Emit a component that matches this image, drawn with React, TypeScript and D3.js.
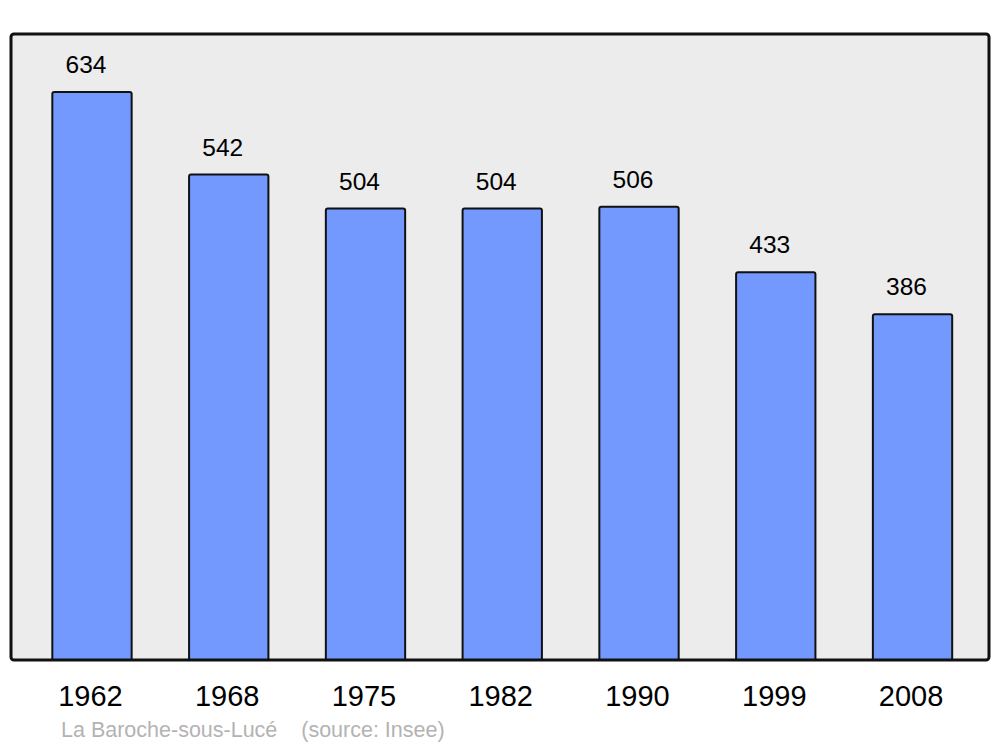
import React, { useRef, useEffect } from 'react';
import * as d3 from 'd3';

const years = ['1962', '1968', '1975', '1982', '1990', '1999', '2008'];
const population = [634, 542, 504, 504, 506, 433, 386];
const caption = 'La Baroche-sous-Lucé    (source: Insee)';

export default function App() {
  const ref = useRef<SVGSVGElement | null>(null);

  useEffect(() => {
    if (!ref.current) return;
    const width = 1000;
    const height = 747;
    const svg = d3.select(ref.current);
    svg.selectAll('*').remove();

    const frame = { left: 11, right: 989, top: 34, bottom: 660 };

    const x = d3.scaleBand<string>()
      .domain(years)
      .range([23.6, 980.9])
      .paddingInner(0.42)
      .paddingOuter(0.21);
    const y = d3.scaleLinear().domain([0, 700]).range([frame.bottom, 33]);

    svg.append('rect')
      .attr('width', width).attr('height', height)
      .attr('fill', '#ffffff');

    // plot background
    svg.append('rect')
      .attr('x', frame.left).attr('y', frame.top)
      .attr('width', frame.right - frame.left)
      .attr('height', frame.bottom - frame.top)
      .attr('rx', 3)
      .attr('fill', '#ececec');

    const data = years.map((yr, i) => ({ yr, v: population[i] }));

    // bars, slightly rounded top corners
    svg.append('g').selectAll('path')
      .data(data)
      .enter().append('path')
      .attr('d', d => {
        const x0 = x(d.yr)!;
        const x1 = x0 + x.bandwidth();
        const t = y(d.v);
        const b = y(0);
        const r = 2;
        return `M${x0},${b} L${x0},${t + r} Q${x0},${t} ${x0 + r},${t} L${x1 - r},${t} Q${x1},${t} ${x1},${t + r} L${x1},${b} Z`;
      })
      .attr('fill', '#7399ff')
      .attr('stroke', '#111')
      .attr('stroke-width', 2);

    // value labels
    svg.append('g').selectAll('text')
      .data(data)
      .enter().append('text')
      .attr('x', d => x(d.yr)! + x.bandwidth() / 2 - 6)
      .attr('y', d => y(d.v) - 19)
      .attr('text-anchor', 'middle')
      .attr('font-family', 'Liberation Sans, Arial, sans-serif')
      .attr('font-size', 24.5)
      .attr('fill', '#000')
      .text(d => d.v);

    // frame border on top
    svg.append('rect')
      .attr('x', frame.left).attr('y', frame.top)
      .attr('width', frame.right - frame.left)
      .attr('height', frame.bottom - frame.top)
      .attr('rx', 3)
      .attr('fill', 'none')
      .attr('stroke', '#111')
      .attr('stroke-width', 3);

    // year labels
    svg.append('g').selectAll('text')
      .data(years)
      .enter().append('text')
      .attr('x', d => x(d)! + x.bandwidth() / 2 - 1.5)
      .attr('y', 706)
      .attr('text-anchor', 'middle')
      .attr('font-family', 'Liberation Sans, Arial, sans-serif')
      .attr('font-size', 29)
      .attr('fill', '#000')
      .text(d => d);

    svg.append('text')
      .attr('x', 61)
      .attr('y', 737)
      .attr('font-family', 'Liberation Sans, Arial, sans-serif')
      .attr('font-size', 21.5)
      .attr('fill', '#b3b3b3')
      .attr('xml:space', 'preserve')
      .style('white-space', 'pre')
      .text(caption);
  }, []);

  return (
    <svg
      ref={ref}
      width={1000}
      height={747}
      style={{ position: 'absolute', left: 0, top: 0, display: 'block' }}
    />
  );
}
